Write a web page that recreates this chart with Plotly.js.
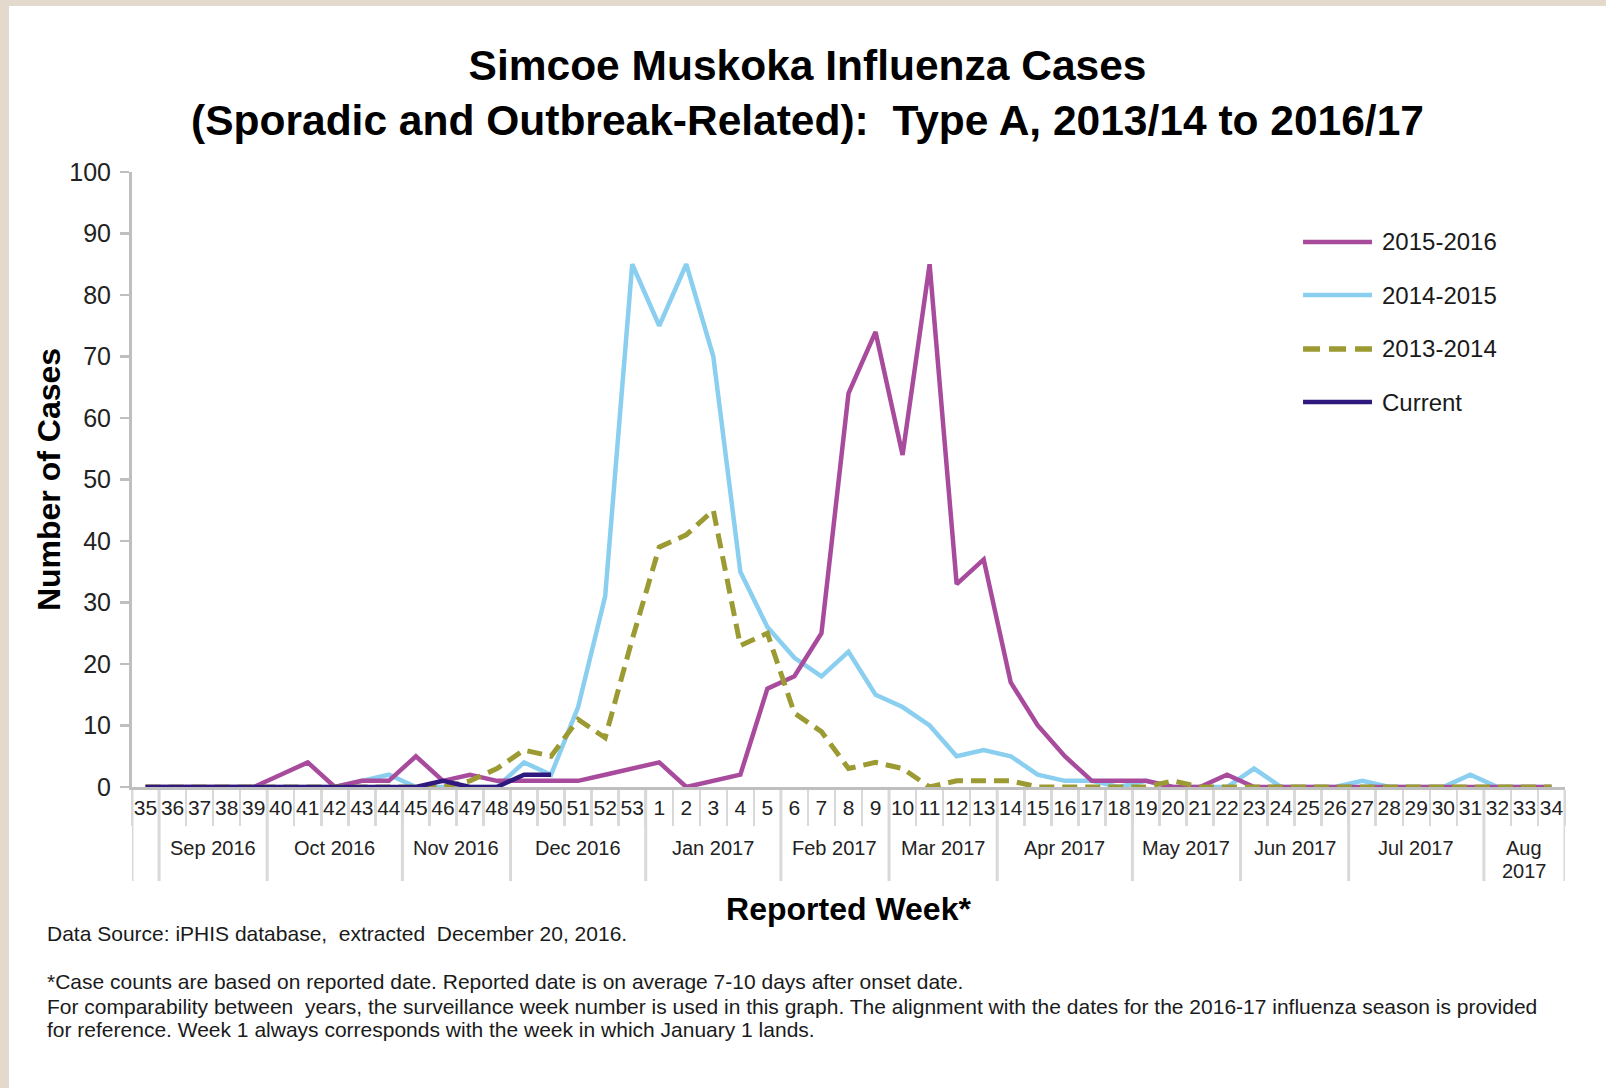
<!DOCTYPE html>
<html>
<head>
<meta charset="utf-8">
<script src="https://cdn.plot.ly/plotly-3.0.1.min.js"></script>
<style>
  html, body { margin: 0; padding: 0; width: 1606px; height: 1088px; overflow: hidden; background: #E4D9CD; }
  #chart { position: absolute; left: 9px; top: 6px; width: 1597px; height: 1082px; background: #fff; }
</style>
</head>
<body>
<div id="chart"></div>
<script>
// ---- Data ----
const weeks = ['35','36','37','38','39','40','41','42','43','44','45','46','47','48','49','50','51','52','53',
  '1','2','3','4','5','6','7','8','9','10','11','12','13','14','15','16','17','18','19','20',
  '21','22','23','24','25','26','27','28','29','30','31','32','33','34'];

// 2015-2016
const s2015_2016 = [0,0,0,0,0,2,4,0,1,1,5,1,2,1,1,1,1,2,3,
  4,0,1,2,16,18,25,64,74,54,85,33,37,17,10,5,1,1,1,0,
  0,2,0,0,0,0,0,0,0,0,0,0,0,0];
// 2014-2015
const s2014_2015 = [0,0,0,0,0,0,0,0,1,2,0,0,0,0,4,2,13,31,85,
  75,85,70,35,26,21,18,22,15,13,10,5,6,5,2,1,1,0,1,0,
  0,0,3,0,0,0,1,0,0,0,2,0,0,0];
// 2013-2014
const s2013_2014 = [0,0,0,0,0,0,0,0,0,0,0,0,1,3,6,5,11,8,24,
  39,41,45,23,25,12,9,3,4,3,0,1,1,1,0,0,0,0,0,1,
  0,0,0,0,0,0,0,0,0,0,0,0,0,0];
// Current season (weeks 35 to 50)
const currentWeeks = weeks.slice(0, 16);
const sCurrent = [0,0,0,0,0,0,0,0,0,0,0,1,0,0,2,2];

const monthLabels = ['Sep 2016','Oct 2016','Nov 2016','Dec 2016','Jan 2017','Feb 2017','Mar 2017','Apr 2017','May 2017','Jun 2017','Jul 2017','Aug 2017'];
const monthFirstWeek = ['36','40','45','49','1','6','10','14','19','23','27','32'];

const seriesNames = ['2015-2016','2014-2015','2013-2014','Current'];
const colors = { '2015-2016': '#A84B9D', '2014-2015': '#8ACFEF', '2013-2014': '#9C9A32', 'Current': '#30197E' };

// ---- Traces ----
const traces = [
  { x: weeks, y: s2014_2015, name: '2014-2015', type: 'scatter', mode: 'lines',
    line: { color: colors['2014-2015'], width: 4.5 } },
  { x: weeks, y: s2015_2016, name: '2015-2016', type: 'scatter', mode: 'lines',
    line: { color: colors['2015-2016'], width: 4.5 } },
  { x: weeks, y: s2013_2014, name: '2013-2014', type: 'scatter', mode: 'lines',
    line: { color: colors['2013-2014'], width: 5, dash: '15px,8px' } },
  { x: currentWeeks, y: sCurrent, name: 'Current', type: 'scatter', mode: 'lines',
    line: { color: colors['Current'], width: 4.5 } }
];

// ---- Month group separators / labels ----
const shapes = [];
const annotations = [];
const lastIdx = weeks.length - 1;
const starts = monthFirstWeek.map(w => weeks.indexOf(w));
const boundaries = [-0.5].concat(starts.map(s => s - 0.5)).concat([lastIdx + 0.5]);
boundaries.forEach(b => {
  shapes.push({ type: 'line', xref: 'x', yref: 'paper', x0: b, x1: b, y0: 0, y1: -0.153,
    line: { color: '#D9D9D9', width: 3 }, layer: 'below' });
});
const monthFont = { family: 'Liberation Sans, Arial, sans-serif', size: 20, color: '#222' };
monthLabels.forEach((lab, i) => {
  const s = starts[i];
  const e = (i < starts.length - 1) ? starts[i + 1] - 1 : lastIdx;
  const c = (s + e) / 2;
  if (e - s + 1 < 4) {
    const parts = lab.split(' ');
    annotations.push({ xref: 'x', yref: 'paper', x: c, y: -0.0992, text: parts[0], showarrow: false,
      xanchor: 'center', yanchor: 'middle', font: monthFont });
    annotations.push({ xref: 'x', yref: 'paper', x: c, y: -0.1366, text: parts[1], showarrow: false,
      xanchor: 'center', yanchor: 'middle', font: monthFont });
  } else {
    annotations.push({ xref: 'x', yref: 'paper', x: c, y: -0.0992, text: lab, showarrow: false,
      xanchor: 'center', yanchor: 'middle', font: monthFont });
  }
});

// ---- Manual legend ----
const legX0 = 0.8172, legX1 = 0.8653, legTextX = 0.8709;
const legY = [0.8862, 0.8, 0.7122, 0.626];
seriesNames.forEach((n, i) => {
  shapes.push({ type: 'line', xref: 'paper', yref: 'paper', x0: legX0, x1: legX1, y0: legY[i], y1: legY[i],
    line: { color: colors[n], width: n === '2013-2014' ? 5.5 : 4.5, dash: n === '2013-2014' ? '17px,9px' : 'solid' } });
  annotations.push({ xref: 'paper', yref: 'paper', x: legTextX, y: legY[i], text: n, showarrow: false,
    xanchor: 'left', yanchor: 'middle', font: { size: 24, color: '#1a1a1a' } });
});

// ---- Footnotes ----
const footLines = [
  ['Data Source: iPHIS database,  extracted  December 20, 2016.', -0.2374],
  ['*Case counts are based on reported date. Reported date is on average 7-10 days after onset date.', -0.3166],
  ['For comparability between  years, the surveillance week number is used in this graph. The alignment with the dates for the 2016-17 influenza season is provided', -0.3572],
  ['for reference. Week 1 always corresponds with the week in which January 1 lands.', -0.3951]
];
footLines.forEach(f => {
  annotations.push({ xref: 'paper', yref: 'paper', x: -0.0607, y: f[1], text: f[0], showarrow: false,
    xanchor: 'left', yanchor: 'middle', font: { size: 21, color: '#1a1a1a' } });
});

const layout = {
  width: 1597, height: 1082,
  margin: { l: 123, r: 41, t: 166, b: 301 },
  paper_bgcolor: '#ffffff', plot_bgcolor: '#ffffff',
  showlegend: false,
  font: { family: 'Liberation Sans, Arial, sans-serif', color: '#1a1a1a' },
  title: {
    text: 'Simcoe Muskoka Influenza Cases<br>(Sporadic and Outbreak-Related):  Type A, 2013/14 to 2016/17',
    font: { size: 42.5, weight: 'bold', color: '#000' },
    x: 0.5, xanchor: 'center', xref: 'container',
    y: 0.9314, yanchor: 'middle', yref: 'container'
  },
  xaxis: {
    type: 'category', categoryorder: 'array', categoryarray: weeks,
    range: [-0.5, lastIdx + 0.5],
    tickmode: 'linear', tick0: 0, dtick: 1,
    showline: true, linecolor: '#BFBFBF', linewidth: 3,
    ticks: 'outside', tickson: 'boundaries', ticklen: 36, tickwidth: 2.5, tickcolor: '#D9D9D9',
    tickangle: 0, ticklabelstandoff: 0,
    tickfont: { family: 'Liberation Sans, Arial, sans-serif', size: 21, color: '#222' },
    showgrid: false, zeroline: false, fixedrange: true,
    title: { text: 'Reported Week*', font: { size: 32, weight: 'bold', color: '#000' }, standoff: 80 }
  },
  yaxis: {
    range: [0, 100], tick0: 0, dtick: 10,
    showline: true, linecolor: '#BFBFBF', linewidth: 3,
    ticks: 'outside', ticklen: 9, tickwidth: 2.5, tickcolor: '#BFBFBF',
    ticklabelstandoff: 4,
    tickfont: { size: 25, color: '#222' },
    showgrid: false, zeroline: false, fixedrange: true,
    title: { text: 'Number of Cases', font: { size: 32, weight: 'bold', color: '#000' }, standoff: 0 }
  },
  shapes: shapes,
  annotations: annotations
};

Plotly.newPlot('chart', traces, layout, { displayModeBar: false, staticPlot: true });
</script>
</body>
</html>
